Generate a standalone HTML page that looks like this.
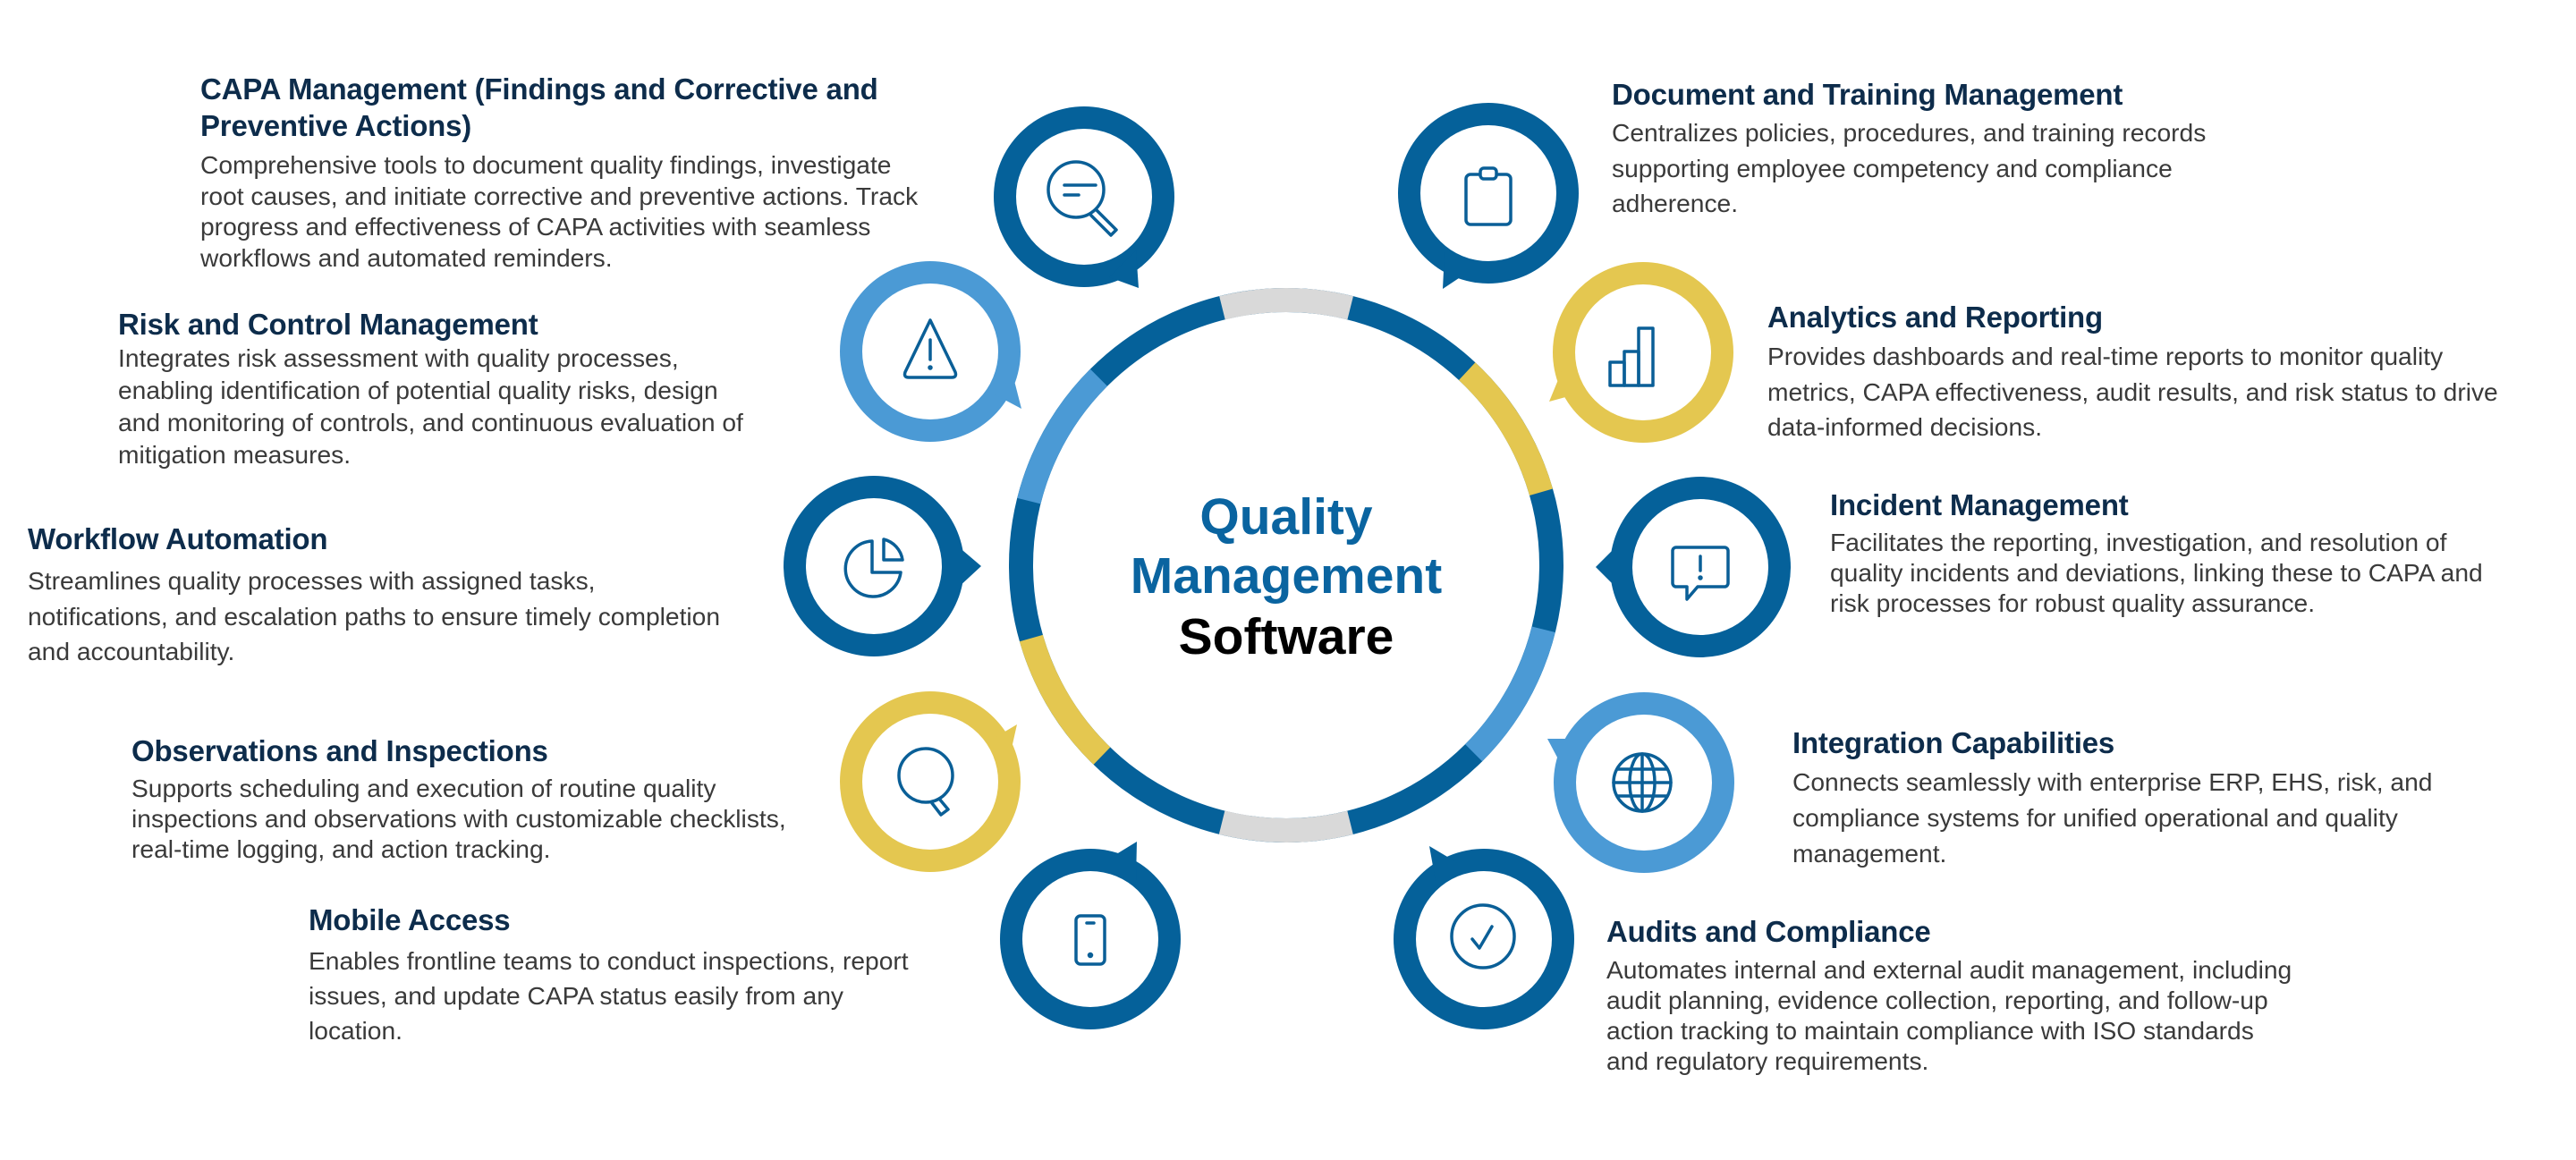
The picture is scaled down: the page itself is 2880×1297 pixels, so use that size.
<!DOCTYPE html>
<html><head><meta charset="utf-8"><style>
html,body{margin:0;padding:0;background:#fff;}
#c{position:relative;width:2880px;height:1297px;overflow:hidden;background:#fff;font-family:"Liberation Sans",sans-serif;}
.t{position:absolute;font-weight:bold;font-size:33px;line-height:41px;color:#0d2c4b;white-space:nowrap;letter-spacing:-0.2px}
.b{position:absolute;font-size:28.2px;color:#3a3a3a;white-space:nowrap;letter-spacing:0px}
svg{position:absolute;left:0;top:0}
</style></head><body><div id="c">
<svg width="2880" height="1297" viewBox="0 0 2880 1297">
<g transform="translate(1438,632) rotate(-90)" fill="none" stroke-width="27">
<circle r="296.5" stroke="#05619a"/>
<circle r="296.5" stroke="#d9d9d9" stroke-dasharray="144.9 1718.1" stroke-dashoffset="72.5"/>
<circle r="296.5" stroke="#e4c750" stroke-dasharray="160.4 1702.6" stroke-dashoffset="-222.5"/>
<circle r="296.5" stroke="#4b9ad5" stroke-dasharray="160.4 1702.6" stroke-dashoffset="-538.2"/>
<circle r="296.5" stroke="#d9d9d9" stroke-dasharray="144.9 1718.1" stroke-dashoffset="-859.1"/>
<circle r="296.5" stroke="#e4c750" stroke-dasharray="155.3 1707.7" stroke-dashoffset="-1159.2"/>
<circle r="296.5" stroke="#4b9ad5" stroke-dasharray="160.4 1702.6" stroke-dashoffset="-1469.7"/>
</g>
<g font-family="Liberation Sans, sans-serif" font-weight="bold" font-size="57" text-anchor="middle">
<text x="1438" y="597" fill="#0a64a0">Quality</text>
<text x="1438" y="663" fill="#0a64a0">Management</text>
<text x="1438" y="731" fill="#000">Software</text>
</g>

<g>
<circle cx="1212" cy="220" r="101" fill="#05619a"/><polygon points="1240,310 1273,322 1270,280" fill="#05619a"/><circle cx="1212" cy="220" r="76" fill="#fff"/>
<circle cx="1040" cy="393" r="101" fill="#4b9ad5"/><polygon points="1110,440 1142,457 1130,410" fill="#4b9ad5"/><circle cx="1040" cy="393" r="76" fill="#fff"/>
<circle cx="977" cy="633" r="101" fill="#05619a"/><polygon points="1070,610 1097,633 1070,658" fill="#05619a"/><circle cx="977" cy="633" r="76" fill="#fff"/>
<circle cx="1040" cy="874" r="101" fill="#e4c750"/><polygon points="1110,826 1137,810 1128,850" fill="#e4c750"/><circle cx="1040" cy="874" r="76" fill="#fff"/>
<circle cx="1219" cy="1050" r="101" fill="#05619a"/><polygon points="1240,960 1271,941 1270,985" fill="#05619a"/><circle cx="1219" cy="1050" r="76" fill="#fff"/>
<circle cx="1664" cy="216" r="101" fill="#05619a"/><polygon points="1640,305 1613,323 1615,282" fill="#05619a"/><circle cx="1664" cy="216" r="76" fill="#fff"/>
<circle cx="1837" cy="394" r="101" fill="#e4c750"/><polygon points="1765,440 1732,449 1748,410" fill="#e4c750"/><circle cx="1837" cy="394" r="76" fill="#fff"/>
<circle cx="1901" cy="634" r="101" fill="#05619a"/><polygon points="1808,610 1784,634 1808,658" fill="#05619a"/><circle cx="1901" cy="634" r="76" fill="#fff"/>
<circle cx="1838" cy="875" r="101" fill="#4b9ad5"/><polygon points="1765,826 1730,826 1748,860" fill="#4b9ad5"/><circle cx="1838" cy="875" r="76" fill="#fff"/>
<circle cx="1659" cy="1050" r="101" fill="#05619a"/><polygon points="1630,965 1598,946 1605,985" fill="#05619a"/><circle cx="1659" cy="1050" r="76" fill="#fff"/>
</g>

<g fill="none" stroke="#0a5f97" stroke-width="3.5" stroke-linecap="round" stroke-linejoin="round">
<circle cx="1203" cy="212" r="31"/><line x1="1190" y1="207" x2="1225" y2="207"/><line x1="1190" y1="218" x2="1206" y2="218"/>
<path d="M1226 235 L1248 257 L1242 263 L1220 241"/>
<path d="M1040 358 L1068 416 Q1070 422 1064 422 L1016 422 Q1010 422 1012 416 Z"/><line x1="1040" y1="380" x2="1040" y2="402"/><circle cx="1040" cy="411" r="1" fill="#0a5f97"/>
<path d="M975 605 A31 31 0 1 0 1007 640 L975 640 Z"/><path d="M988 603 A28 28 0 0 1 1009 626 L988 626 Z"/>
<circle cx="1035" cy="867" r="30"/><path d="M1050 893 L1060 905 L1052 911 L1042 898"/>
<rect x="1203" y="1024" width="32" height="54" rx="5"/><line x1="1215" y1="1032" x2="1223" y2="1032"/><circle cx="1219" cy="1068" r="1.5" fill="#0a5f97"/>
<rect x="1639" y="195" width="50" height="56" rx="5"/><rect x="1655" y="188" width="18" height="12" rx="4" fill="#fff"/>
<rect x="1800" y="405" width="16" height="26"/><rect x="1816" y="393" width="16" height="38"/><rect x="1832" y="367" width="16" height="64"/>
<path d="M1874 612 h54 a4 4 0 0 1 4 4 v36 a4 4 0 0 1 -4 4 h-30 l-12 14 v-14 h-12 a4 4 0 0 1 -4 -4 v-36 a4 4 0 0 1 4 -4 z"/><line x1="1901" y1="622" x2="1901" y2="638"/><circle cx="1901" cy="646" r="1" fill="#0a5f97"/>
<circle cx="1836" cy="875" r="32"/><ellipse cx="1836" cy="875" rx="14" ry="32"/><line x1="1836" y1="843" x2="1836" y2="907"/><line x1="1804" y1="875" x2="1868" y2="875"/><line x1="1809" y1="860" x2="1863" y2="860"/><line x1="1809" y1="890" x2="1863" y2="890"/>
<circle cx="1658" cy="1047" r="35"/><path d="M1646 1050 L1654 1060 L1668 1036"/>
</g>
</svg>

<div class="t" style="left:224px;top:79px">CAPA Management (Findings and Corrective and<br>Preventive Actions)</div>
<div class="b" style="left:224px;top:167px;line-height:34.5px">Comprehensive tools to document quality findings, investigate<br>root causes, and initiate corrective and preventive actions. Track<br>progress and effectiveness of CAPA activities with seamless<br>workflows and automated reminders.</div>

<div class="t" style="left:132px;top:342px">Risk and Control Management</div>
<div class="b" style="left:132px;top:382px;line-height:36px">Integrates risk assessment with quality processes,<br>enabling identification of potential quality risks, design<br>and monitoring of controls, and continuous evaluation of<br>mitigation measures.</div>

<div class="t" style="left:31px;top:582px">Workflow Automation</div>
<div class="b" style="left:31px;top:630px;line-height:39.5px">Streamlines quality processes with assigned tasks,<br>notifications, and escalation paths to ensure timely completion<br>and accountability.</div>

<div class="t" style="left:147px;top:819px">Observations and Inspections</div>
<div class="b" style="left:147px;top:864px;line-height:34px">Supports scheduling and execution of routine quality<br>inspections and observations with customizable checklists,<br>real-time logging, and action tracking.</div>

<div class="t" style="left:345px;top:1008px">Mobile Access</div>
<div class="b" style="left:345px;top:1055px;line-height:39px">Enables frontline teams to conduct inspections, report<br>issues, and update CAPA status easily from any<br>location.</div>

<div class="t" style="left:1802px;top:85px">Document and Training Management</div>
<div class="b" style="left:1802px;top:129px;line-height:39.5px">Centralizes policies, procedures, and training records<br>supporting employee competency and compliance<br>adherence.</div>

<div class="t" style="left:1976px;top:334px">Analytics and Reporting</div>
<div class="b" style="left:1976px;top:379px;line-height:39.5px">Provides dashboards and real-time reports to monitor quality<br>metrics, CAPA effectiveness, audit results, and risk status to drive<br>data-informed decisions.</div>

<div class="t" style="left:2046px;top:544px">Incident Management</div>
<div class="b" style="left:2046px;top:589px;line-height:34px">Facilitates the reporting, investigation, and resolution of<br>quality incidents and deviations, linking these to CAPA and<br>risk processes for robust quality assurance.</div>

<div class="t" style="left:2004px;top:810px">Integration Capabilities</div>
<div class="b" style="left:2004px;top:854px;line-height:40px">Connects seamlessly with enterprise ERP, EHS, risk, and<br>compliance systems for unified operational and quality<br>management.</div>

<div class="t" style="left:1796px;top:1021px">Audits and Compliance</div>
<div class="b" style="left:1796px;top:1067px;line-height:34px">Automates internal and external audit management, including<br>audit planning, evidence collection, reporting, and follow-up<br>action tracking to maintain compliance with ISO standards<br>and regulatory requirements.</div>
</div></body></html>
